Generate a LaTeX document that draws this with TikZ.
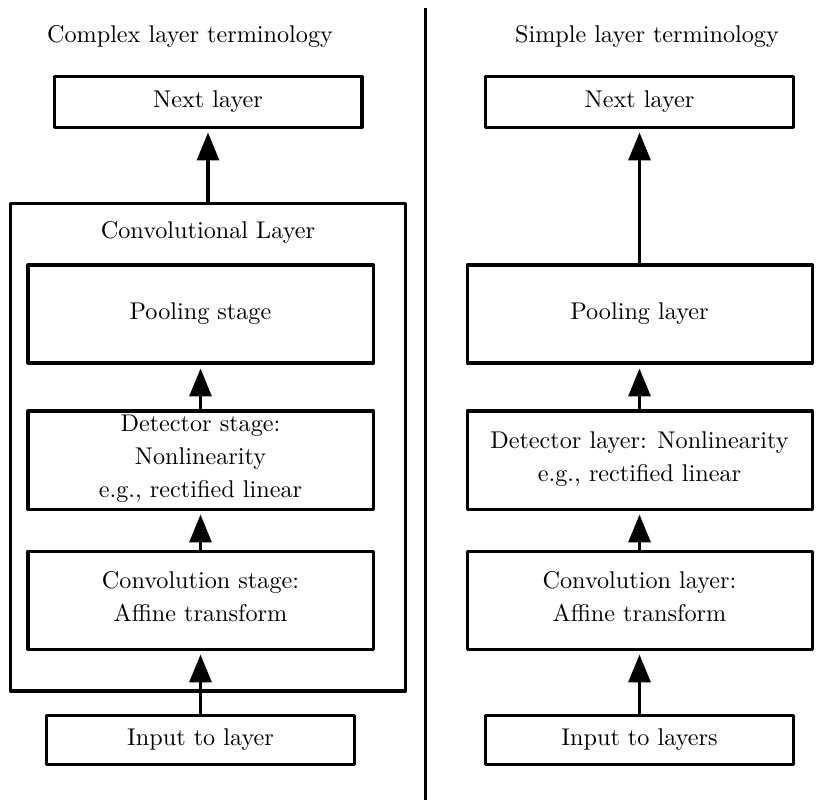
\documentclass[tikz,border=0pt]{standalone}
\usetikzlibrary{arrows.meta}
\begin{document}
% one drawing unit is 0.4255pt
\begin{tikzpicture}[x=0.4255pt, y=-0.4255pt,
  every node/.style={font=\fontsize{10.3pt}{12.4pt}\selectfont},
  box/.style={draw, line width=1.28pt, line join=round, inner sep=0pt, align=center,
              minimum width=146.8pt, minimum height=41.7pt},
  multi/.style={box, text depth=3.2pt},
  io/.style={box, minimum width=131.05pt, minimum height=21.28pt},
  arr/.style={-{Triangle[width=9.36pt,length=11.9pt]}, line width=1.4pt, shorten >=1.7pt},
  title/.style={inner sep=0pt}]
\useasboundingbox (0,0) rectangle (835,807);

% column headings and divider
\node[title] (titleL) at (190,36) {Complex layer terminology};
\node[title] (titleR) at (647,36) {Simple layer terminology};
\coordinate (divTop) at (425.5,8);
\coordinate (divBot) at (425.5,800);
\draw[line width=1.28pt] (divTop) -- (divBot);

% complex terminology: one layer made of stages
\node[io] (nextL) at (208,102) {Next layer};
\node[box, minimum width=168.07pt, minimum height=207.64pt] (convL) at (208,447) {};
\node[title] (convlabel) at (208,232) {Convolutional Layer};
\node[box] (poolL) at (200.5,314) {Pooling stage};
\node[multi] (detL) at (200.5,460) {Detector stage:\\[1.6pt]Nonlinearity\\[1.6pt]e.g., rectified linear};
\node[multi] (cstL) at (200.5,600) {Convolution stage:\\[1.6pt]Affine transform};
\node[io, minimum height=20.85pt] (inL) at (200.5,739.5) {Input to layer};

\draw[arr] (convL.north) -- (nextL.south);
\draw[arr] (detL) -- (poolL);
\draw[arr] (cstL) -- (detL);
\draw[arr] (inL) -- (cstL);

% simple terminology: every step is a layer
\node[io] (nextR) at (639.5,102) {Next layer};
\node[box] (poolR) at (639.5,314) {Pooling layer};
\node[multi] (detR) at (639.5,460) {Detector layer: Nonlinearity\\[1.6pt]e.g., rectified linear};
\node[multi] (cstR) at (639.5,600) {Convolution layer:\\[1.6pt]Affine transform};
\node[io, minimum height=20.85pt] (inR) at (639.5,739.5) {Input to layers};

\draw[arr] (poolR) -- (nextR);
\draw[arr] (detR) -- (poolR);
\draw[arr] (cstR) -- (detR);
\draw[arr] (inR) -- (cstR);
\end{tikzpicture}
\end{document}
